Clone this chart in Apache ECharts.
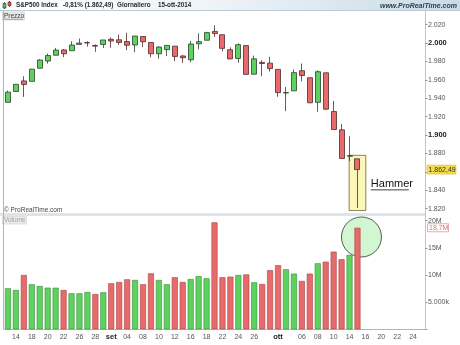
<!DOCTYPE html>
<html><head><meta charset="utf-8">
<script src="https://cdn.jsdelivr.net/npm/echarts@6/dist/echarts.min.js"></script>
<style>html,body{margin:0;padding:0;background:#fff}#c{width:460px;height:345px}</style>
</head><body><div id="c"></div>
<script>
// ---- data ----
const dates = ['13','14','15','18','19','20','21','22','25','26','27','28','29',
  '02','03','04','05','08','09','10','11','12','15','16','17','18','19','22','23','24','25','26','29','30',
  '01','02','03','06','07','08','09','10','13','14','15',
  '16','17','20','21','22','23','24','27'];
const tickLabels = ['','14','','18','','20','','22','','26','','28','',
  'set','','04','','08','','10','','12','','16','','18','','22','','24','','26','','',
  'ott','','','06','','08','','10','','14','',
  '16','','20','','22','','24',''];
const opens  = [1935.6,1947.4,1958.9,1958.4,1972.7,1980.5,1986.8,1992.6,1991.7,1998.6,2000.5,1997.4,1998.5,
  2004.1,2003.6,2001.7,1998.0,2007.2,2000.7,1988.4,1992.9,1996.7,1986.0,1981.9,1999.3,2003.1,2012.7,2009.1,1992.8,1983.3,1997.3,1966.2,1979.0,1978.2,
  1971.4,1945.8,1948.1,1970.0,1962.4,1935.6,1967.7,1925.6,1905.7,1877.1,1874.2];
const closes = [1946.7,1955.2,1955.1,1971.7,1981.6,1986.5,1992.4,1988.4,1997.9,2000.0,2000.1,1996.7,2003.4,
  2002.3,2000.7,1997.7,2007.7,2001.5,1988.4,1995.7,1997.5,1985.5,1984.1,1999.0,2001.6,2011.4,2010.4,1994.3,1982.8,1998.3,1966.0,1982.9,1977.8,1972.3,
  1946.2,1946.2,1967.9,1964.8,1935.1,1968.9,1928.2,1906.1,1874.7,1877.7,1862.49];
const lows   = [1935.6,1947.4,1941.5,1958.4,1972.7,1977.7,1986.8,1984.8,1991.7,1998.6,1996.2,1990.5,1994.7,
  1994.9,1998.1,1992.4,1990.1,1995.6,1984.6,1983.0,1985.9,1980.3,1978.5,1979.1,1993.3,2003.1,2006.6,1991.0,1982.8,1978.6,1966.0,1966.2,1964.0,1969.0,
  1941.7,1926.0,1948.1,1958.4,1934.9,1925.3,1927.6,1906.1,1874.1,1871.8,1820.7];
const highs  = [1948.4,1955.2,1964.0,1972.0,1982.6,1988.6,1994.8,1993.5,2002.0,2005.0,2002.1,1998.6,2003.4,
  2006.1,2009.3,2011.2,2007.7,2007.2,2001.0,1996.7,1997.7,1996.7,1987.2,2002.3,2010.7,2012.3,2019.3,2009.1,1995.4,1999.8,1997.3,1986.4,1981.3,1985.2,
  1971.4,1952.3,1971.2,1977.8,1962.4,1970.4,1967.7,1937.0,1912.1,1898.7,1874.2];
const volumes = [7.55,7.24,10.0,8.29,7.97,7.66,7.66,7.24,6.63,6.63,6.87,6.5,6.81,
  8.47,8.71,9.2,9.08,8.29,10.3,9.08,8.29,9.58,8.71,9.26,9.8,9.39,19.7,9.58,9.7,10.0,10.1,8.65,8.34,10.9,
  11.8,11.05,10.25,8.9,10.25,12.15,12.45,14.3,12.9,13.7,18.7];
const volumeTickLabels = ['', '5.000k', '10M', '15M', '20M'];
const boldPriceTicks = [2000, 1900];
const headerTexts = ['S&P500 Index', '-0,81% (1.862,49)', 'Giornaliero', '15-ott-2014'];
const siteText = 'www.ProRealTime.com';
const copyText = '\u00a9 ProRealTime.com';
const lastPriceLabel = '1.862,49';
const lastVolumeLabel = '18,7M';
const patternLabel = 'Hammer';

const FONT = '"Liberation Sans", Arial, sans-serif';
const UP = '#5ed25e', DOWN = '#e86b6b';

function fmtPrice(v) {
  const t = Math.floor(v / 1000), r = Math.round(v % 1000);
  return t + '.' + String(r).padStart(3, '0');
}

const chart = echarts.init(document.getElementById('c'), null, {renderer: 'canvas'});

const candleData = opens.map((o, i) => [o, closes[i], lows[i], highs[i]]);
const volData = volumes.map((v, i) => {
  const up = i === 0 ? closes[i] >= opens[i] : closes[i] >= closes[i - 1];
  return {value: v, itemStyle: {color: up ? UP : DOWN, borderColor: up ? '#3a8a3a' : '#a54343'}};
});

const HF = 'bold 6.3px ' + FONT;
const staticGraphics = [
  {type: 'rect', shape: {x: 0, y: 0, width: 460, height: 10.5}, z: 0,
   style: {fill: new echarts.graphic.LinearGradient(0, 0, 1, 0, [
     {offset: 0, color: '#ffffff'}, {offset: 0.45, color: '#eef4f8'}, {offset: 1, color: '#c9dbe6'}])}},
  {type: 'line', shape: {x1: 0, y1: 10.5, x2: 460, y2: 10.5}, style: {stroke: '#b9cad4', lineWidth: 1}},
  // small icon
  {type: 'line', shape: {x1: 4.5, y1: 2, x2: 4.5, y2: 9}, style: {stroke: '#333', lineWidth: 0.8}},
  {type: 'rect', shape: {x: 3, y: 3.5, width: 3, height: 4.5}, style: {fill: '#4fc24f', stroke: '#333', lineWidth: 0.6}},
  {type: 'line', shape: {x1: 9.5, y1: 1, x2: 9.5, y2: 7}, style: {stroke: '#333', lineWidth: 0.8}},
  {type: 'rect', shape: {x: 8, y: 2, width: 3, height: 3.5}, style: {fill: '#e05555', stroke: '#333', lineWidth: 0.6}},
  {type: 'text', x: 16, y: 5.5, style: {text: headerTexts[0], font: HF, fill: '#2a2a2a', verticalAlign: 'middle'}},
  {type: 'text', x: 63, y: 5.5, style: {text: headerTexts[1], font: HF, fill: '#2a2a2a', verticalAlign: 'middle'}},
  {type: 'text', x: 117, y: 5.5, style: {text: headerTexts[2], font: HF, fill: '#2a2a2a', verticalAlign: 'middle'}},
  {type: 'text', x: 158, y: 5.5, style: {text: headerTexts[3], font: HF, fill: '#2a2a2a', verticalAlign: 'middle'}},
  {type: 'text', x: 457, y: 6, style: {text: siteText, font: 'italic bold 7px ' + FONT, fill: '#33404a', align: 'right', verticalAlign: 'middle'}},
  // panel labels
  {type: 'rect', shape: {x: 2.5, y: 12, width: 22, height: 8}, style: {fill: '#ececec', stroke: '#c8c8c8', lineWidth: 0.6}},
  {type: 'text', x: 4, y: 16.2, style: {text: 'Prezzo', font: '6.5px ' + FONT, fill: '#333', verticalAlign: 'middle'}},
  {type: 'line', shape: {x1: 4, y1: 19.2, x2: 23, y2: 19.2}, style: {stroke: '#555', lineWidth: 0.5}},
  {type: 'text', x: 4, y: 210.5, style: {text: copyText, font: '6.5px ' + FONT, fill: '#444', verticalAlign: 'middle'}},
  {type: 'rect', shape: {x: 0, y: 213, width: 426, height: 3}, style: {fill: '#dbe5eb'}},
  {type: 'rect', shape: {x: 2.5, y: 216.5, width: 24, height: 7.5}, style: {fill: '#ececec', stroke: '#d0d0d0', lineWidth: 0.6}},
  {type: 'text', x: 4, y: 220.3, style: {text: 'Volume', font: '6.5px ' + FONT, fill: '#a0a0a0', verticalAlign: 'middle'}},
  // frame lines
  {type: 'line', shape: {x1: 3.5, y1: 11, x2: 3.5, y2: 329.5}, style: {stroke: '#b5b5b5', lineWidth: 1}},
  {type: 'line', shape: {x1: 425.5, y1: 11, x2: 425.5, y2: 329.5}, style: {stroke: '#c5c5c5', lineWidth: 1}}
];

const option = {
  animation: false,
  backgroundColor: '#fff',
  textStyle: {fontFamily: FONT},
  grid: [
    {left: 4, right: 35, top: 24.7, height: 184},
    {left: 4, right: 35, top: 220.7, height: 108.6}
  ],
  xAxis: [
    {type: 'category', data: dates, gridIndex: 0, boundaryGap: true,
     axisLine: {show: false}, axisTick: {show: false}, axisLabel: {show: false}, splitLine: {show: false}},
    {type: 'category', data: dates, gridIndex: 1, boundaryGap: true,
     axisLine: {show: true, lineStyle: {color: '#b5b5b5', width: 1}}, axisTick: {show: false},
     splitLine: {show: false},
     axisLabel: {interval: 0, fontSize: 7, color: '#555', margin: 4, fontFamily: FONT,
       formatter: (v, i) => {
         const t = tickLabels[i];
         if (t === 'set' || t === 'ott') return '{b|' + t + '}';
         return t;
       },
       rich: {b: {fontWeight: 'bold', color: '#222', fontSize: 7.5, fontFamily: FONT}}}}
  ],
  yAxis: [
    {type: 'value', gridIndex: 0, position: 'right', min: 1820, max: 2020, interval: 20,
     axisLine: {show: false}, splitLine: {show: false},
     axisTick: {show: true, length: 2.5, lineStyle: {color: '#999'}},
     axisLabel: {fontSize: 7, color: '#555', margin: 3, fontFamily: FONT,
       formatter: v => boldPriceTicks.includes(v) ? '{b|' + fmtPrice(v) + '}' : fmtPrice(v),
       rich: {b: {fontWeight: 'bold', color: '#222', fontSize: 7.5, fontFamily: FONT}}}},
    {type: 'value', gridIndex: 1, position: 'right', min: 0, max: 20, interval: 5,
     axisLine: {show: false}, splitLine: {show: false},
     axisTick: {show: true, length: 2.5, lineStyle: {color: '#999'}},
     axisLabel: {fontSize: 7, color: '#555', margin: 3, fontFamily: FONT,
       formatter: v => volumeTickLabels[Math.round(v / 5)] || ''}}
  ],
  series: [
    {type: 'candlestick', xAxisIndex: 0, yAxisIndex: 0, data: candleData, barWidth: 5.5, z: 3,
     itemStyle: {color: UP, color0: DOWN, borderColor: '#2c402c', borderColor0: '#4e2a2a', borderWidth: 0.8}},
    {type: 'bar', xAxisIndex: 1, yAxisIndex: 1, data: volData, barWidth: 6, z: 3,
     itemStyle: {borderWidth: 0.6}}
  ],
  graphic: staticGraphics
};
chart.setOption(option);

// ---- overlays computed from data through the axes ----
const last = closes.length - 1;
const pLast = chart.convertToPixel({gridIndex: 0}, [last, 1878]);
const pPrev = chart.convertToPixel({gridIndex: 0}, [last - 1, 1878]);
const band = pLast[0] - pPrev[0];
const yBoxBottom = chart.convertToPixel({gridIndex: 0}, [last, 1818])[1];
const yHammer = chart.convertToPixel({gridIndex: 0}, [last, 1847])[1];
const yLastPrice = chart.convertToPixel({gridIndex: 0}, [last, closes[last]])[1];
const vCenter = chart.convertToPixel({gridIndex: 1}, [last, 17])[1];
const yLastVol = chart.convertToPixel({gridIndex: 1}, [last, volumes[last]])[1];
const boxL = pLast[0] - 1.05 * band, boxR = pLast[0] + 1.05 * band;

const overlay = staticGraphics.concat([
  {type: 'rect', z: 1, shape: {x: boxL, y: pLast[1], width: boxR - boxL, height: yBoxBottom - pLast[1]},
   style: {fill: '#fbf7b8', stroke: '#6b6b2a', lineWidth: 0.8}},
  {type: 'text', z: 10, x: boxR + 5, y: yHammer,
   style: {text: patternLabel, font: '11px ' + FONT, fill: '#111', verticalAlign: 'middle'}},
  {type: 'line', z: 10, shape: {x1: boxR + 5, y1: yHammer + 6, x2: boxR + 43, y2: yHammer + 6}, style: {stroke: '#111', lineWidth: 0.8}},
  {type: 'circle', z: 1, shape: {cx: pLast[0] + 0.5 * band, cy: vCenter, r: 20},
   style: {fill: '#d2f6d2', stroke: '#2a3a2a', lineWidth: 0.8}},
  {type: 'rect', z: 10, shape: {x: 427, y: yLastPrice - 4.5, width: 29, height: 9},
   style: {fill: '#f3dc4a', stroke: '#d4b52a', lineWidth: 0.5}},
  {type: 'text', z: 11, x: 428.5, y: yLastPrice,
   style: {text: lastPriceLabel, font: '7px ' + FONT, fill: '#333', verticalAlign: 'middle'}},
  {type: 'rect', z: 10, shape: {x: 427.5, y: yLastVol - 4, width: 21, height: 8},
   style: {fill: '#ffffff', stroke: '#e08a8a', lineWidth: 0.7}},
  {type: 'text', z: 11, x: 429, y: yLastVol,
   style: {text: lastVolumeLabel, font: '7px ' + FONT, fill: '#e07070', verticalAlign: 'middle'}}
]);
chart.setOption({graphic: overlay}, {replaceMerge: ['graphic']});
</script>
</body></html>
